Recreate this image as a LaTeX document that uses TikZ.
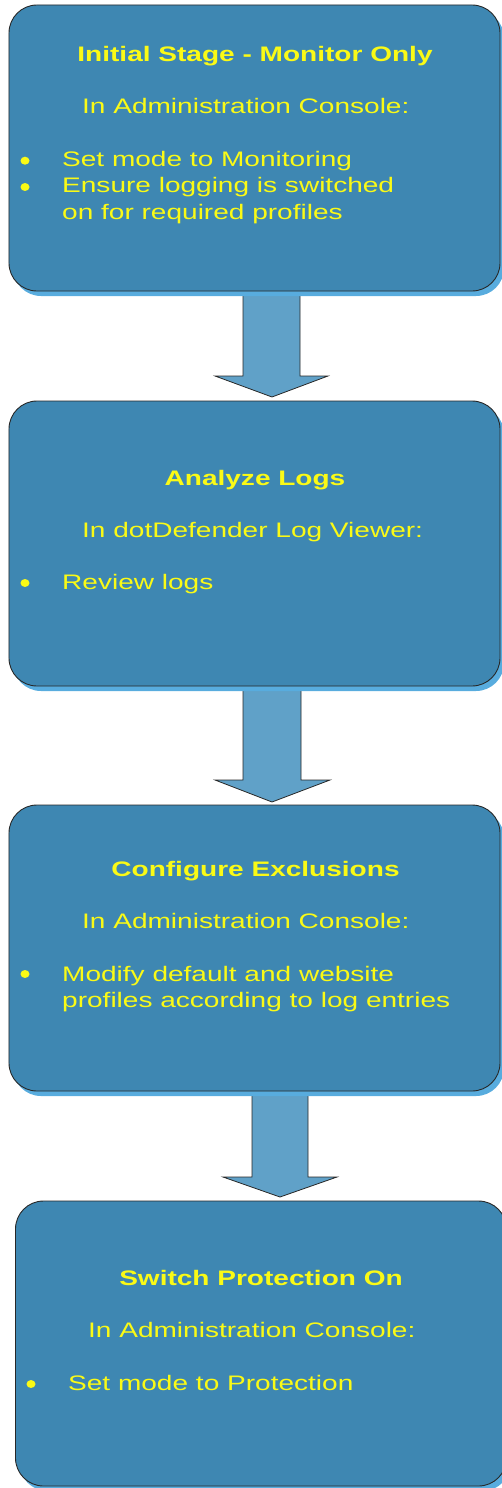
\documentclass[tikz,border=0pt]{standalone}
\usepackage{fontspec}
\setmainfont{Liberation Sans}[FakeStretch=1.335]
\usetikzlibrary{shadows}
\definecolor{boxblue}{RGB}{62,135,178}
\definecolor{arrowblue}{RGB}{96,161,200}
\definecolor{shadowblue}{RGB}{88,172,222}
\definecolor{txtyellow}{RGB}{250,250,22}
\definecolor{edgegray}{RGB}{40,40,40}
\tikzset{
  stagebox/.style={draw=edgegray, line width=0.9bp, fill=boxblue, rounded corners=28bp,
    minimum width=491bp, inner sep=0pt,
    drop shadow={shadow xshift=4bp, shadow yshift=-5bp, fill=shadowblue, opacity=1}},
  blockarrow/.style={draw=edgegray, line width=0.8bp, fill=arrowblue, line join=miter},
  headtext/.style={text=txtyellow, inner sep=0pt, anchor=base, font=\fontsize{21bp}{26bp}\selectfont\bfseries},
  bodytext/.style={text=txtyellow, inner sep=0pt, anchor=base west, font=\fontsize{21bp}{26bp}\selectfont},
  bulletdot/.style={fill=txtyellow, draw=none}
}
\begin{document}
\begin{tikzpicture}[x=1bp, y=-1bp]
\useasboundingbox (0,0) rectangle (502,1488);
% block arrows (behind the boxes)
\draw[blockarrow] (243,280) -- (243,376) -- (215,376) -- (272,397) -- (328,376) -- (300,376) -- (300,280) -- cycle;
\draw[blockarrow] (243,676) -- (243,780) -- (215,780) -- (272,802) -- (330,780) -- (301,780) -- (301,676) -- cycle;
\draw[blockarrow] (252,1080) -- (252,1177) -- (223,1177) -- (280,1197) -- (337,1177) -- (308,1177) -- (308,1080) -- cycle;
% boxes
\node[stagebox, minimum height=286bp] (b1) at (254.5,148) {};
\node[stagebox, minimum height=285bp] (b2) at (254.5,543.5) {};
\node[stagebox, minimum height=286bp] (b3) at (254.5,948) {};
\node[stagebox, minimum height=285bp] (b4) at (261,1343.5) {};
% box 1
\node[headtext] (t1) at (255,62) {Initial Stage - Monitor Only};
\node[bodytext] (c1) at (82,114) {In Administration Console:};
\node[bodytext] (l1a) at (62,167) {Set mode to Monitoring};
\node[bodytext] (l1b) at (62,193) {Ensure logging is switched};
\node[bodytext] (l1c) at (62,220) {on for required profiles};
\fill[bulletdot] (25,160.7) ellipse [x radius=4.5, y radius=4];
\fill[bulletdot] (25,187) ellipse [x radius=4.5, y radius=4];
% box 2
\node[headtext] (t2) at (255,485) {Analyze Logs};
\node[bodytext] (c2) at (82,537) {In dotDefender Log Viewer:};
\node[bodytext] (l2a) at (62,589) {Review logs};
\fill[bulletdot] (25,583) ellipse [x radius=4.5, y radius=4];
% box 3
\node[headtext] (t3) at (255.5,876) {Configure Exclusions};
\node[bodytext] (c3) at (82,928) {In Administration Console:};
\node[bodytext] (l3a) at (62,981) {Modify default and website};
\node[bodytext] (l3b) at (62,1007) {profiles according to log entries};
\fill[bulletdot] (25,974) ellipse [x radius=4.5, y radius=4];
% box 4
\node[headtext] (t4) at (261,1285) {Switch Protection On};
\node[bodytext] (c4) at (88,1337) {In Administration Console:};
\node[bodytext] (l4a) at (68,1390) {Set mode to Protection};
\fill[bulletdot] (31,1384) ellipse [x radius=4.5, y radius=4];
\end{tikzpicture}
\end{document}
